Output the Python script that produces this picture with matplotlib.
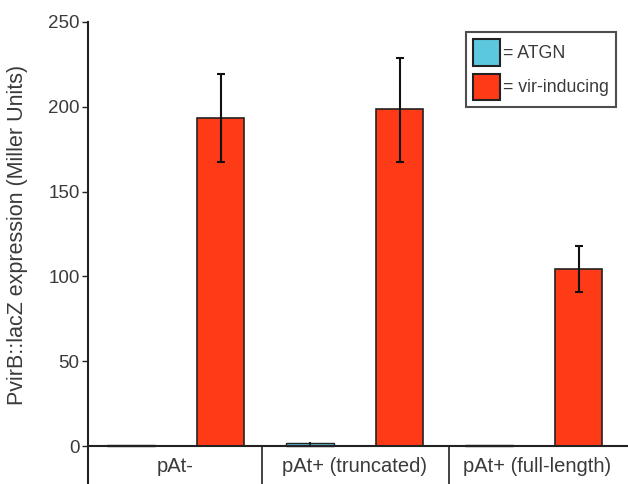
import matplotlib
matplotlib.use("Agg")
from matplotlib import pyplot as plt
from matplotlib.patches import Patch

plt.rcParams['font.family'] = ['Liberation Sans', 'DejaVu Sans']

categories = ["pAt-", "pAt+ (truncated)", "pAt+ (full-length)"]
atgn = [0.4, 1.5, 0.4]
atgn_err = [0, 0.8, 0]
vir = [193.5, 198.5, 104.5]
vir_err_low = [26, 31, 13.5]
vir_err_high = [26, 30.5, 13.5]

blue = "#5cc8df"
red = "#ff3a17"

fig = plt.figure(figsize=(6.28, 4.84), dpi=100)
ax = fig.add_axes([88/628, 0, 540/628, (484-22)/484])

x = list(range(len(categories)))
w = 0.265
xa = [i - 0.25 for i in x]
xv = [i + 0.25 for i in x]
ax.bar(xa, atgn, width=w, color=blue, edgecolor="#222222", linewidth=1.0,
       yerr=atgn_err, capsize=0, error_kw=dict(ecolor="#222222", elinewidth=1.5))
ax.bar(xv, vir, width=w, color=red, edgecolor="#222222", linewidth=1.2,
       yerr=[vir_err_low, vir_err_high], capsize=3,
       error_kw=dict(ecolor="#111111", elinewidth=1.5, capthick=1.5))

ymin = -22.4
ax.set_ylim(ymin, 250)
ax.set_xlim(-0.49, 2.525)

ax.spines['top'].set_visible(False)
ax.spines['right'].set_visible(False)
ax.spines['bottom'].set_visible(False)
ax.spines['left'].set_linewidth(1.5)
ax.spines['left'].set_color("#222222")

ax.axhline(0, color="#222222", linewidth=1.5)
for sx in [0.48, 1.525]:
    ax.plot([sx, sx], [ymin, 0], color="#222222", linewidth=1.2)

ax.set_xticks([])
ax.set_yticks([0, 50, 100, 150, 200, 250])
ax.tick_params(axis='y', direction='out', length=4, width=1, labelsize=13.5,
               colors="#222222", labelcolor="#3a3a3a", pad=2)

label_x = [-0.005, 1.0, 2.02]
for lx, name in zip(label_x, categories):
    ax.text(lx, -11.8, name, ha='center', va='center', fontsize=14.5, color="#3a3a3a")

ax.set_ylabel("PvirB::lacZ expression (Miller Units)", fontsize=15.5, color="#3a3a3a")
ax.yaxis.set_label_coords(-0.112, 0.54)

handles = [Patch(facecolor=blue, edgecolor="#222222", linewidth=1.5, label="= ATGN"),
           Patch(facecolor=red, edgecolor="#222222", linewidth=1.5, label="= vir-inducing")]
leg = ax.legend(handles=handles, loc='upper right', bbox_to_anchor=(0.977, 0.978),
                fontsize=12.8, frameon=True, fancybox=False, handlelength=1.5,
                handleheight=1.9, handletextpad=0.15, borderpad=0.4, labelspacing=0.45,
                borderaxespad=0)
leg.get_frame().set_edgecolor("#222222")
leg.get_frame().set_linewidth(1.5)
for t in leg.get_texts():
    t.set_color("#3a3a3a")

fig.savefig("out.png", dpi=100)
